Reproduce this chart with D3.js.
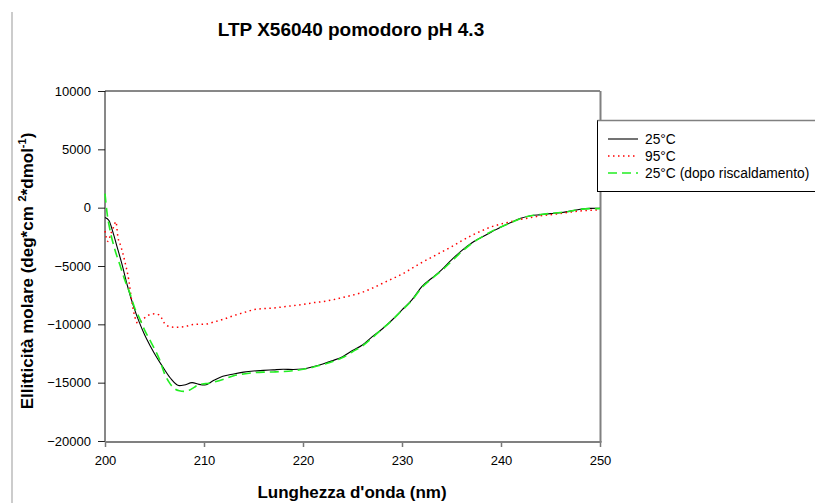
<!DOCTYPE html>
<html>
<head>
<meta charset="utf-8">
<script src="https://cdn.jsdelivr.net/npm/d3@7"></script>
<style>
  body { margin: 0; background: #fff; }
  svg { display: block; font-family: Arial, "Liberation Sans", sans-serif; }
</style>
</head>
<body>
<svg id="chart" width="815" height="503"></svg>
<script>
// wavelengths (nm) and molar ellipticity readings, per series
const nm25 = [200, 200.4, 200.8, 201.2, 201.7, 202.3, 202.9, 203.5, 204, 204.6, 205.2, 205.8, 206.6, 207.5, 208, 208.8, 209.5, 210.1, 211, 211.9, 213, 214, 215, 216, 217, 218, 219, 220, 221, 222, 223, 224, 225, 226, 227, 228, 229, 230, 231, 232, 233, 234, 235, 236, 237, 238, 239, 240, 241, 242, 243, 244, 245, 246, 247, 248, 249, 250];
const val25 = [-850, -1100, -2100, -3300, -4800, -6800, -8500, -9900, -10900, -11900, -12800, -13600, -14600, -15250, -15200, -15000, -15150, -15200, -14800, -14450, -14250, -14100, -14000, -13950, -13900, -13850, -13870, -13830, -13630, -13400, -13110, -12770, -12250, -11770, -11050, -10400, -9630, -8770, -7910, -6770, -6050, -5340, -4480, -3700, -3050, -2550, -2100, -1650, -1280, -910, -690, -600, -510, -430, -300, -140, -60, -50];

const nm95 = [200, 200.3, 200.6, 200.9, 201.1, 201.3, 201.6, 202, 202.4, 202.7, 203, 203.3, 203.7, 204.2, 205, 205.5, 206, 206.5, 207, 208, 209, 210, 211, 212, 213, 214, 215, 216, 217, 218, 219, 220, 221, 222, 223, 224, 225, 226, 227, 228, 229, 230, 231, 232, 233, 234, 235, 236, 237, 238, 239, 240, 241, 242, 243, 244, 245, 246, 247, 248, 249, 250];
const val95 = [-2000, -2900, -2200, -1600, -1200, -2500, -3300, -4600, -6200, -8000, -9300, -9900, -9700, -9300, -9100, -9200, -9900, -10200, -10250, -10200, -10000, -10000, -9800, -9550, -9250, -9000, -8750, -8650, -8600, -8500, -8400, -8300, -8150, -8050, -7900, -7700, -7500, -7250, -6900, -6500, -6100, -5700, -5200, -4700, -4250, -3800, -3350, -2850, -2400, -2000, -1650, -1400, -1200, -1000, -850, -700, -600, -500, -380, -280, -220, -200];

const nmAfter = [200, 200.2, 200.5, 201, 201.5, 202, 202.5, 203, 203.5, 204, 204.5, 205, 205.5, 206, 206.5, 207, 207.5, 208, 208.5, 209, 209.5, 210, 210.5, 211, 212, 213, 214, 215, 216, 217, 218, 219, 220, 221, 222, 223, 224, 225, 226, 227, 228, 229, 230, 231, 232, 233, 234, 235, 236, 237, 238, 239, 240, 241, 242, 243, 244, 245, 246, 247, 248, 249, 250];
const valAfter = [1200, -400, -1900, -3600, -4900, -6200, -7300, -8600, -9500, -10500, -11300, -12100, -13000, -14200, -15000, -15500, -15700, -15750, -15650, -15400, -15150, -15100, -15050, -14950, -14700, -14400, -14250, -14150, -14100, -14080, -14050, -13980, -13850, -13680, -13450, -13180, -12850, -12350, -11850, -11150, -10400, -9650, -8800, -7950, -6850, -6100, -5400, -4600, -3800, -3100, -2550, -2050, -1650, -1280, -930, -700, -580, -490, -420, -310, -130, -80, -80];

const seriesNames = ['25°C', '95°C', '25°C (dopo riscaldamento)'];
const xTicks = [200, 210, 220, 230, 240, 250];
const yTicks = [-20000, -15000, -10000, -5000, 0, 5000, 10000];

const series = [
  { name: seriesNames[0], pts: nm25.map((x, i) => [x, val25[i]]), color: '#000', width: 1.1, dash: null },
  { name: seriesNames[1], pts: nm95.map((x, i) => [x, val95[i]]), color: '#ff0000', width: 1.5, dash: '1.5,3.5' },
  { name: seriesNames[2], pts: nmAfter.map((x, i) => [x, valAfter[i]]), color: '#22ee22', width: 1.6, dash: '9,5' },
];

const svg = d3.select('#chart');
const plotLeft = 105, plotRight = 600, plotTop = 91, plotBottom = 441;

const x = d3.scaleLinear().domain([200, 250]).range([plotLeft, plotRight]);
const y = d3.scaleLinear().domain([-20000, 10000]).range([plotBottom, plotTop]);

// page border line on the left
svg.append('line')
  .attr('x1', 12).attr('x2', 12).attr('y1', 12).attr('y2', 503)
  .attr('stroke', '#999').attr('stroke-width', 1);

svg.append('text')
  .attr('x', 351).attr('y', 35.5)
  .attr('text-anchor', 'middle')
  .style('font-weight', 'bold').style('font-size', '19px')
  .text('LTP X56040 pomodoro pH 4.3');

// axes
const yAxis = svg.append('g')
  .attr('transform', `translate(${plotLeft},0)`)
  .call(d3.axisLeft(y).tickValues(yTicks).tickSize(7).tickPadding(7).tickSizeOuter(0).tickFormat(d3.format('d')));
yAxis.select('.domain').remove();
yAxis.selectAll('text').style('font-size', '13px').attr('fill', '#000').style('font-family', 'Arial, "Liberation Sans", sans-serif');
yAxis.selectAll('line').attr('stroke', '#222');

const xAxis = svg.append('g')
  .attr('transform', `translate(0,${plotBottom})`)
  .call(d3.axisBottom(x).tickValues(xTicks).tickSize(6).tickPadding(9).tickSizeOuter(0));
xAxis.select('.domain').remove();
xAxis.selectAll('text').style('font-size', '13px').attr('fill', '#000').style('font-family', 'Arial, "Liberation Sans", sans-serif');
xAxis.selectAll('line').attr('stroke', '#777').attr('stroke-width', 1.5);

// frame
svg.append('line').attr('x1', plotLeft).attr('x2', plotRight).attr('y1', plotTop).attr('y2', plotTop).attr('stroke', '#111');
svg.append('line').attr('x1', plotLeft).attr('x2', plotLeft).attr('y1', plotTop).attr('y2', plotBottom).attr('stroke', '#111');
svg.append('line').attr('x1', plotRight + 0.5).attr('x2', plotRight + 0.5).attr('y1', plotTop).attr('y2', plotBottom + 1).attr('stroke', '#808080').attr('stroke-width', 2);
svg.append('line').attr('x1', plotLeft).attr('x2', plotRight + 1.5).attr('y1', plotBottom + 1).attr('y2', plotBottom + 1).attr('stroke', '#808080').attr('stroke-width', 2);

// curves
const line = d3.line()
  .x(d => x(d[0]))
  .y(d => y(d[1]))
  .curve(d3.curveMonotoneX);

svg.append('g').selectAll('path')
  .data(series)
  .join('path')
  .attr('d', d => line(d.pts))
  .attr('fill', 'none')
  .attr('stroke', d => d.color)
  .attr('stroke-width', d => d.width)
  .attr('stroke-dasharray', d => d.dash);

// axis titles
svg.append('text')
  .attr('x', 352).attr('y', 498)
  .attr('text-anchor', 'middle')
  .style('font-weight', 'bold').style('font-size', '17px')
  .text("Lunghezza d'onda (nm)");

const yTitle = svg.append('text')
  .attr('transform', 'translate(33,271) rotate(-90)')
  .attr('text-anchor', 'middle')
  .style('font-weight', 'bold').style('font-size', '17px');
yTitle.append('tspan').text('Ellitticità molare (deg*cm ');
yTitle.append('tspan').attr('dy', -7).style('font-size', '11px').text('2');
yTitle.append('tspan').attr('dy', 7).text('*dmol');
yTitle.append('tspan').attr('dy', -7).style('font-size', '11px').text('-1');
yTitle.append('tspan').attr('dy', 7).text(')');

// legend
const legend = svg.append('g');
legend.append('rect')
  .attr('x', 597.5).attr('y', 120.5).attr('width', 240).attr('height', 71)
  .attr('fill', '#fff').attr('stroke', '#000');
legend.append('line').attr('x1', 597.5).attr('x2', 815).attr('y1', 120.5).attr('y2', 120.5).attr('stroke', '#808080').attr('stroke-width', 1.5);

const rowY = [139, 156, 173];
series.forEach((s, i) => {
  legend.append('line')
    .attr('x1', 608).attr('x2', 638).attr('y1', rowY[i]).attr('y2', rowY[i])
    .attr('stroke', s.color).attr('stroke-width', s.width)
    .attr('stroke-dasharray', s.dash);
  legend.append('text')
    .attr('x', 645).attr('y', rowY[i] + 4.8)
    .style('font-size', '13.8px')
    .text(s.name);
});
</script>
</body>
</html>
